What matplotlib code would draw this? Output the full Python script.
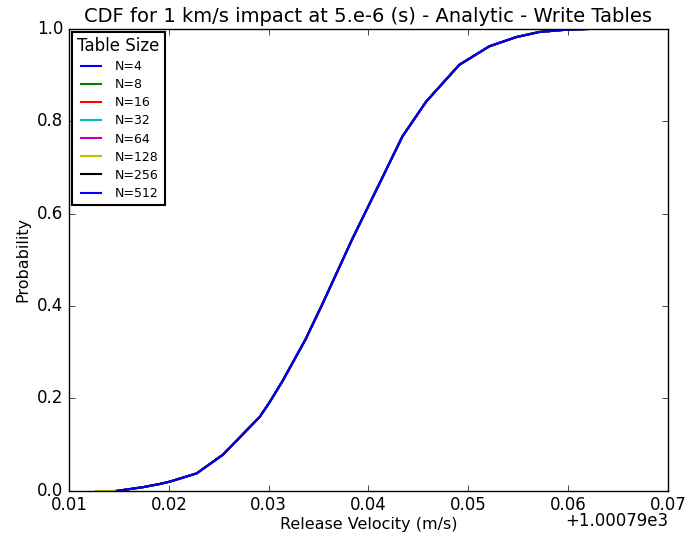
import matplotlib
matplotlib.use("Agg")
import matplotlib.pyplot as plt
from matplotlib.ticker import ScalarFormatter, MultipleLocator

plt.style.use("classic")

BASE = 1000.79
labels = ["N=4", "N=8", "N=16", "N=32", "N=64", "N=128", "N=256", "N=512"]
colors = ["b", "g", "r", "c", "m", "y", "k", "b"]

# velocity offsets (m/s, relative to BASE) and cumulative probabilities
vel = [0.0148, 0.0174, 0.0191, 0.0201, 0.0228, 0.0254, 0.0291, 0.0301, 0.0314,
       0.0337, 0.0354, 0.0367, 0.0384, 0.0411, 0.0434, 0.0458, 0.0491, 0.0521,
       0.0548, 0.0571, 0.0598, 0.0627]
prob = [0.0, 0.008, 0.015, 0.02, 0.038, 0.078, 0.160, 0.192, 0.238,
        0.328, 0.405, 0.466, 0.546, 0.665, 0.767, 0.843, 0.922, 0.962,
        0.982, 0.993, 0.998, 1.0]

# N=128 table starts a little lower
vel_128_head = [0.0127]
prob_128_head = [0.0]

fig = plt.figure(figsize=(6.9, 5.33), dpi=100, facecolor="white")
ax = fig.add_axes([0.100, 0.079, 0.868, 0.867])

for lab, col in zip(labels, colors):
    if lab == "N=128":
        xs = vel_128_head + vel
        ys = prob_128_head + prob
    else:
        xs = vel
        ys = prob
    ax.plot([BASE + v for v in xs], ys, color=col, lw=1.5, label=lab)

ax.set_xlim(BASE + 0.01, BASE + 0.07)
ax.set_ylim(0, 1.0)
ax.xaxis.set_major_locator(MultipleLocator(0.01))
fmt = ScalarFormatter(useOffset=BASE)
ax.xaxis.set_major_formatter(fmt)
ax.yaxis.set_major_locator(MultipleLocator(0.2))

ax.set_title("CDF for 1 km/s impact at 5.e-6 (s) - Analytic - Write Tables", fontsize=14)
ax.set_xlabel("Release Velocity (m/s)", fontsize=11.5, labelpad=2)
ax.set_ylabel("Probability", fontsize=11.5)
ax.tick_params(labelsize=12)

# draw the axis offset text where the reference shows it
fig.canvas.draw()
offset_str = ax.xaxis.get_offset_text().get_text()
ax.xaxis.get_offset_text().set_visible(False)
ax.text(1.0, -0.065, offset_str, transform=ax.transAxes, ha="right", va="center",
        fontsize=12)

leg = ax.legend(loc="upper left", title="Table Size", fontsize=9,
                handlelength=2.2, borderaxespad=0.25, labelspacing=0.41)
leg.get_title().set_fontsize(12)
leg.get_frame().set_linewidth(1.5)

fig.savefig("out.png", dpi=100, facecolor="white")
